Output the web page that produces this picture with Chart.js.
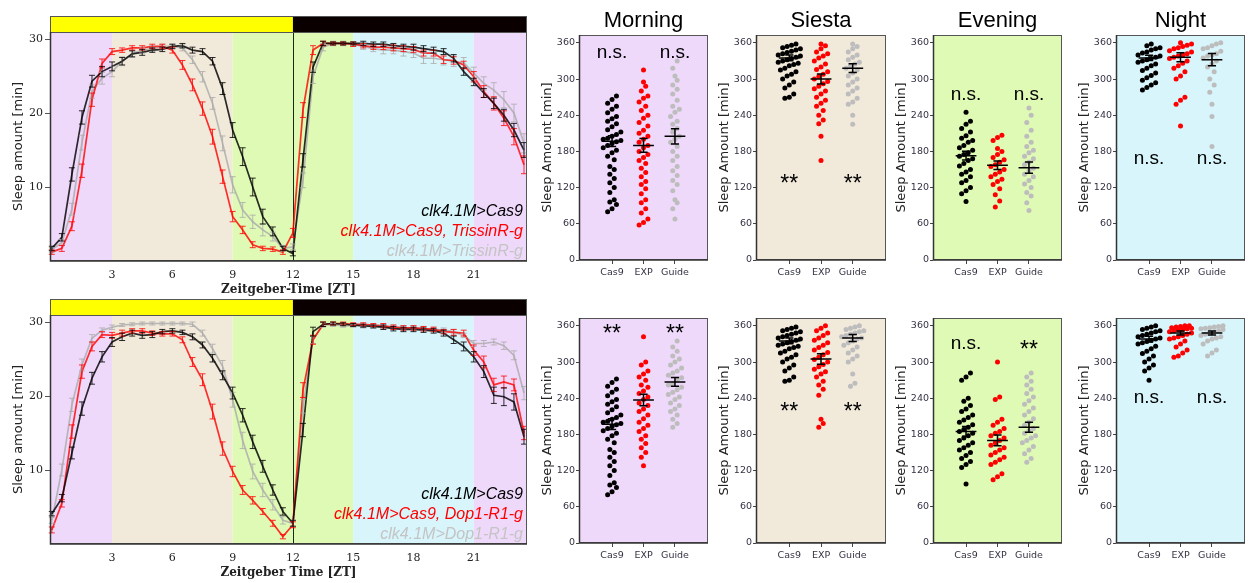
<!DOCTYPE html>
<html>
<head>
<meta charset="utf-8">
<script src="https://cdn.jsdelivr.net/npm/chart.js@4.4.0/dist/chart.umd.min.js"></script>
<style>
  body { margin: 0; background: #fff; }
  #wrap { position: relative; width: 1248px; height: 583px; overflow: hidden; }
  canvas { position: absolute; }
</style>
</head>
<body>
<div id="wrap"></div>
<script>
// ---- time course data (30 min bins, ZT hours) ----
var zt = [0,0.5,1,1.5,2,2.5,3,3.5,4,4.5,5,5.5,6,6.5,7,7.5,8,8.5,9,9.5,10,10.5,11,11.5,
          12,12.5,13,13.5,14,14.5,15,15.5,16,16.5,17,17.5,18,18.5,19,19.5,20,20.5,21,21.5,22,22.5,23,23.5];
var ztTicks = [3,6,9,12,15,18,21];

// top: TrissinR
var cas9A  = [1.7,3.2,11.7,19.4,24.3,25.6,26.3,27.0,28.0,28.2,28.5,28.6,29.0,29.1,28.5,28.3,27.0,23.3,17.7,14.1,10.0,6.0,4.0,1.7,
              1.0,13.6,26.2,29.4,29.4,29.4,29.4,29.4,29.3,29.3,29.1,29.0,28.9,28.7,28.5,28.3,27.4,25.6,24.2,22.7,21.3,19.7,17.7,15.0];
var expA   = [1.2,1.7,4.7,12.2,21.8,26.7,28.3,28.5,28.8,28.8,29.0,29.0,28.5,26.5,23.8,20.6,16.8,11.4,6.0,4.2,2.2,1.7,1.6,1.2,
              3.8,20.4,28.5,29.4,29.4,29.4,29.3,29.1,28.9,28.9,28.8,28.7,28.6,28.1,28.1,27.2,27.1,26.5,24.9,22.9,21.3,19.3,16.8,13.0];
var guideA = [1.5,2.5,7.0,16.0,22.9,24.7,25.6,27.0,28.0,28.5,28.7,29.0,29.0,28.8,27.2,24.9,21.3,15.9,10.3,6.9,5.3,4.2,3.3,1.7,
              1.9,10.9,24.9,28.9,29.4,29.4,29.3,29.0,28.7,28.5,28.5,28.3,28.1,27.4,27.4,27.2,27.0,26.8,25.4,24.0,23.1,21.8,20.0,15.9];
var semCas9A  = [0.3,0.5,0.9,0.9,0.8,0.7,0.6,0.5,0.4,0.4,0.3,0.3,0.3,0.3,0.4,0.4,0.5,0.8,1.0,1.2,1.2,1.0,0.6,0.3,
                 0.3,0.9,0.7,0.3,0.2,0.2,0.2,0.3,0.3,0.3,0.3,0.3,0.4,0.4,0.4,0.4,0.5,0.5,0.5,0.6,0.7,0.8,0.9,1.0];
var semExpA   = [0.3,0.4,0.6,0.9,0.9,0.6,0.4,0.3,0.3,0.3,0.3,0.3,0.4,0.6,0.8,0.9,1.0,0.9,0.7,0.5,0.4,0.3,0.3,0.3,
                 0.6,1.0,0.6,0.3,0.2,0.2,0.3,0.3,0.3,0.3,0.4,0.4,0.4,0.4,0.4,0.5,0.5,0.5,0.7,0.8,0.9,1.0,1.1,1.2];
var semGuideA = [0.3,0.4,0.8,1.0,0.9,0.8,0.7,0.6,0.5,0.4,0.4,0.3,0.3,0.4,0.5,0.7,0.8,1.0,1.1,1.0,0.9,0.8,0.6,0.4,
                 0.4,1.0,0.9,0.5,0.3,0.3,0.3,0.4,0.4,0.5,0.5,0.6,0.6,0.7,0.7,0.7,0.7,0.7,0.8,0.9,1.0,1.1,1.2,1.3];

// bottom: Dop1-R1
var cas9B  = [4.1,6.2,12.3,18.3,22.4,25.3,27.3,28.0,28.5,28.2,28.3,28.7,28.8,28.6,28.0,26.9,25.1,22.8,20.4,17.4,13.8,10.5,7.3,4.4,
              2.8,15.4,28.7,29.7,29.8,29.7,29.6,29.5,29.4,29.3,29.1,29.0,29.0,28.9,28.8,28.5,27.6,26.7,25.3,23.3,20.1,19.9,19.2,14.5];
var expB   = [1.9,5.5,15.2,23.3,26.7,28.3,28.2,28.5,28.8,28.8,28.5,28.4,28.4,27.6,24.6,22.2,17.9,12.9,9.8,7.3,5.9,4.4,2.8,1.0,
              2.6,20.8,27.6,29.7,29.8,29.8,29.7,29.7,29.6,29.5,29.3,29.2,29.2,29.1,29.0,28.7,28.6,28.5,26.2,24.6,21.5,21.9,21.5,15.0];
var guideB = [3.2,10.0,18.8,24.2,27.8,28.9,29.3,29.6,29.7,29.8,29.8,29.8,29.8,29.8,29.7,28.5,26.4,24.0,19.5,14.0,9.8,7.3,5.3,3.2,
              2.8,18.6,27.6,29.6,29.6,29.5,29.5,29.4,29.4,29.3,29.3,29.2,29.2,29.1,29.0,28.9,28.7,28.2,27.1,27.1,27.3,26.8,25.5,20.4];
var semCas9B  = [0.3,0.5,0.8,0.9,0.8,0.7,0.6,0.5,0.4,0.4,0.4,0.3,0.3,0.3,0.4,0.4,0.5,0.6,0.8,0.9,0.9,0.8,0.7,0.5,
                 0.4,0.9,0.6,0.3,0.2,0.2,0.2,0.2,0.2,0.3,0.3,0.3,0.3,0.3,0.3,0.4,0.5,0.6,0.7,0.8,1.1,1.2,1.1,1.0];
var semExpB   = [0.4,0.5,0.9,0.9,0.6,0.4,0.4,0.4,0.3,0.3,0.3,0.3,0.3,0.4,0.6,0.8,1.0,0.9,0.7,0.6,0.5,0.4,0.4,0.3,
                 0.4,1.0,0.6,0.3,0.2,0.2,0.2,0.2,0.2,0.3,0.3,0.3,0.3,0.3,0.3,0.3,0.4,0.4,0.7,0.8,0.9,0.8,0.8,0.9];
var semGuideB = [0.4,0.8,0.9,0.8,0.5,0.3,0.3,0.2,0.2,0.2,0.2,0.2,0.2,0.2,0.3,0.4,0.6,0.8,1.0,1.1,1.0,0.9,0.7,0.5,
                 0.4,0.9,0.5,0.3,0.2,0.2,0.2,0.2,0.2,0.3,0.3,0.3,0.3,0.3,0.3,0.3,0.3,0.3,0.4,0.4,0.4,0.5,0.6,0.9];

var namesA = ['clk4.1M>Cas9', 'clk4.1M>Cas9, TrissinR-g', 'clk4.1M>TrissinR-g'];
var namesB = ['clk4.1M>Cas9', 'clk4.1M>Cas9, Dop1-R1-g', 'clk4.1M>Dop1-R1-g'];

// ---- per-period sleep amounts (min) ----
var groups = ['Cas9', 'EXP', 'Guide'];
var periods = ['Morning', 'Siesta', 'Evening', 'Night'];

var morningCas9A  = [272,266,260,255,250,244,238,234,230,226,221,216,212,208,205,202,200,198,196,193,190,186,182,178,172,166,155,150,142,135,128,120,112,100,96,92,85,80];
var morningExpA   = [315,295,288,280,272,268,262,255,248,240,235,228,222,215,210,205,200,195,190,186,180,175,170,165,160,152,145,138,130,125,118,110,100,95,85,78,68,62,58];
var morningGuideA = [330,318,305,298,290,283,275,265,255,250,245,238,230,225,218,212,205,200,195,188,180,172,165,155,148,140,132,125,115,100,95,85,68];
var siestaCas9A   = [358,356,354,352,350,348,346,344,342,340,338,336,334,332,330,328,326,324,322,318,315,312,308,305,300,295,290,285,275,270,268];
var siestaExpA    = [358,355,350,345,342,338,335,330,325,320,316,312,308,304,300,296,292,288,284,280,275,270,265,260,255,248,240,232,226,205,165];
var siestaGuideA  = [358,354,350,345,340,336,332,328,325,322,318,315,310,305,300,295,290,285,280,275,268,262,258,240,225];
var eveningCas9A  = [245,230,225,218,212,206,202,198,195,190,186,182,178,175,172,168,165,160,156,150,146,142,138,132,128,120,115,110,97];
var eveningExpA   = [207,203,198,185,180,175,170,166,162,158,155,150,146,142,138,134,130,125,118,108,98,88];
var eveningGuideA = [252,240,228,215,205,195,188,182,178,172,168,162,158,152,148,142,138,132,126,120,112,106,95,82];
var nightCas9A    = [358,355,352,350,348,345,343,340,338,336,334,332,330,328,325,322,318,314,310,306,302,298,294,290,286,282];
var nightExpA     = [360,358,356,354,352,350,347,345,342,340,338,336,334,330,326,322,318,312,305,300,270,265,258,222];
var nightGuideA   = [360,358,355,352,350,346,342,340,338,335,330,325,320,312,300,290,278,258,238,188];

var morningCas9B  = [272,266,260,255,250,244,238,234,230,226,221,216,212,208,205,202,200,198,196,193,190,186,182,178,172,166,155,150,142,135,128,120,112,100,96,92,85,80];
var morningExpB   = [342,300,295,285,280,275,270,262,258,252,248,242,238,232,228,222,218,212,206,200,195,190,185,178,172,165,158,150,142,128];
var morningGuideB = [335,325,318,310,305,300,295,290,285,282,278,274,270,265,262,258,254,250,246,242,238,232,228,222,218,212,205,198,192];
var siestaCas9B   = [358,356,354,352,350,348,346,344,342,340,338,336,334,332,330,328,326,324,322,318,315,312,308,305,300,295,290,285,275,270,268];
var siestaExpB    = [360,356,352,348,344,340,336,332,328,324,320,316,312,308,304,300,296,292,288,284,280,275,268,262,255,245,205,198,192];
var siestaGuideB  = [360,358,356,354,352,350,348,346,344,342,340,338,335,332,328,325,320,315,310,305,300,280,265,260];
var eveningCas9B  = [282,275,270,240,235,228,222,218,212,208,204,200,196,192,188,185,182,178,174,170,166,162,158,154,150,145,140,135,130,125,98];
var eveningExpB   = [300,242,238,205,200,195,190,185,182,178,174,170,166,162,158,154,150,146,142,138,134,130,115,110,105];
var eveningGuideB = [282,275,268,262,255,248,242,236,230,224,218,212,206,200,195,190,186,182,178,174,170,166,160,154,148,140,134];
var nightCas9B    = [360,358,356,354,352,350,348,346,344,342,340,338,336,334,332,330,326,322,318,314,310,305,300,295,290,285,270];
var nightExpB     = [360,360,359,358,357,356,355,354,353,352,350,348,346,344,342,340,338,335,330,325,320,315,310,308];
var nightGuideB   = [360,359,358,357,356,355,354,352,350,348,346,344,342,340,338,335,330,320,315,310];

// group means as plotted
var meansMorningA = [197,190,205], meansSiestaA = [335,300,318], meansEveningA = [173,157,153], meansNightA = [335,336,332];
var meansMorningB = [197,237,267], meansSiestaB = [335,305,340], meansEveningB = [185,170,192], meansNightB = [338,348,348];

// significance marks and the value level they sit at
var sigA = [['n.s.','','n.s.'], ['**','','**'], ['n.s.','','n.s.'], ['n.s.','','n.s.']];
var sigLevelA = [343, 136, 273, 168];
var sigB = [['**','','**'], ['**','','**'], ['n.s.','','**'], ['n.s.','','n.s.']];
var sigLevelB = [356, 226, 330, 240];

// ---- styling ----
var lineColors = ['rgba(0,0,0,0.82)', 'rgba(255,0,0,0.8)', 'rgba(170,170,170,0.8)'];
var legendColors = ['#000000', '#ff0000', '#c4c4c4'];
var dotColors = ['#000000', '#ff0000', '#bdbdbd'];
var phases = [[-1, 3, '#efd9fb'], [3, 9, '#f1e9da'], [9, 15, '#dffab5'], [15, 21, '#d7f5fb'], [21, 25, '#efd9fb']];
var lightBar = [[-1, 12, '#ffff00'], [12, 25, '#0a0000']];
var periodBg = ['#efd9fb', '#f1e9da', '#dffab5', '#d7f5fb'];
var stripLefts = [579, 756, 933, 1116];

var wrap = document.getElementById('wrap');
function addCanvas(left, top, w, h) {
  var c = document.createElement('canvas');
  c.width = w; c.height = h;
  c.style.left = left + 'px'; c.style.top = top + 'px';
  c.style.width = w + 'px'; c.style.height = h + 'px';
  wrap.appendChild(c);
  return c;
}

// background phases, light/dark bar, ZT12 line
var zonesPlugin = {
  id: 'zones',
  beforeDatasetsDraw: function(chart) {
    var ctx = chart.ctx, a = chart.chartArea, x = chart.scales.x;
    ctx.save();
    ctx.beginPath(); ctx.rect(a.left, a.top - 16, a.width, a.height + 16); ctx.clip();
    phases.forEach(function(p) {
      ctx.fillStyle = p[2];
      ctx.fillRect(x.getPixelForValue(p[0]), a.top, x.getPixelForValue(p[1]) - x.getPixelForValue(p[0]), a.height);
    });
    lightBar.forEach(function(p) {
      ctx.fillStyle = p[2];
      ctx.fillRect(x.getPixelForValue(p[0]), a.top - 16, x.getPixelForValue(p[1]) - x.getPixelForValue(p[0]), 16);
    });
    ctx.restore();
    ctx.save();
    ctx.strokeStyle = '#1c2a12'; ctx.lineWidth = 1;
    var x12 = Math.round(x.getPixelForValue(12)) + 0.5;
    ctx.beginPath(); ctx.moveTo(x12, a.top); ctx.lineTo(x12, a.bottom); ctx.stroke();
    ctx.restore();
  },
  afterDraw: function(chart) {
    var ctx = chart.ctx, a = chart.chartArea;
    ctx.save();
    ctx.strokeStyle = '#555'; ctx.lineWidth = 1;
    ctx.strokeRect(a.left + 0.5, a.top - 16 + 0.5, a.width - 1, a.height + 16 - 1);
    ctx.beginPath(); ctx.moveTo(a.left, a.top + 0.5); ctx.lineTo(a.right, a.top + 0.5); ctx.stroke();
    ctx.strokeStyle = '#333'; ctx.lineWidth = 1.5;
    ctx.beginPath(); ctx.moveTo(a.left + 0.5, a.top); ctx.lineTo(a.left + 0.5, a.bottom); ctx.lineTo(a.right, a.bottom); ctx.stroke();
    ctx.restore();
  }
};

var errorBars = {
  id: 'errorBars',
  afterDatasetsDraw: function(chart) {
    var ctx = chart.ctx, x = chart.scales.x, y = chart.scales.y;
    ctx.save();
    ctx.lineWidth = 1;
    chart.data.datasets.slice().reverse().forEach(function(ds) {
      ctx.strokeStyle = ds.borderColor;
      ds.data.forEach(function(p, j) {
        var e = ds.sem[j] || 0;
        var px = x.getPixelForValue(p.x);
        var y1 = y.getPixelForValue(p.y - e), y2 = y.getPixelForValue(p.y + e);
        ctx.beginPath();
        ctx.moveTo(px, y1); ctx.lineTo(px, y2);
        ctx.moveTo(px - 3, y1); ctx.lineTo(px + 3, y1);
        ctx.moveTo(px - 3, y2); ctx.lineTo(px + 3, y2);
        ctx.stroke();
      });
    });
    ctx.restore();
  }
};

var legendText = {
  id: 'legendText',
  afterDraw: function(chart) {
    var ctx = chart.ctx, a = chart.chartArea;
    var ds = chart.data.datasets;
    ctx.save();
    ctx.font = 'italic 16px "Liberation Sans", Arial, sans-serif';
    ctx.textAlign = 'right'; ctx.textBaseline = 'middle';
    ds.forEach(function(d, i) {
      ctx.fillStyle = legendColors[i];
      ctx.fillText(d.label, a.right - 4, a.bottom - 9 - 20 * (ds.length - 1 - i));
    });
    ctx.restore();
  }
};

function lineChart(top, series, sems, names, xTitle) {
  var cv = addCanvas(0, top, 540, 300);
  var tickFont = { family: '"DejaVu Serif", serif', size: 11 };
  new Chart(cv, {
    type: 'line',
    data: {
      datasets: series.map(function(s, i) {
        return {
          label: names[i],
          data: s.map(function(v, j) { return { x: zt[j], y: v }; }),
          sem: sems[i],
          borderColor: lineColors[i],
          borderWidth: 1.7,
          pointRadius: 0,
          tension: 0,
          order: i
        };
      })
    },
    options: {
      responsive: false, animation: false, events: [],
      layout: { padding: { top: 32, right: 13, left: 0, bottom: 0 } },
      plugins: { legend: { display: false }, tooltip: { enabled: false } },
      scales: {
        x: {
          type: 'linear', min: -0.09, max: 23.65,
          afterBuildTicks: function(s) { s.ticks = ztTicks.map(function(v) { return { value: v }; }); },
          afterFit: function(s) { s.height = 39; },
          grid: { display: false },
          border: { display: false },
          ticks: { font: tickFont, color: '#222', padding: 0, maxRotation: 0 },
          title: { display: true, text: xTitle, color: '#222',
                   font: { family: '"DejaVu Serif", serif', size: 12, weight: 'bold' },
                   padding: { top: 0, bottom: 2.5 } }
        },
        y: {
          min: 0, max: 30.95,
          afterBuildTicks: function(s) { s.ticks = [10, 20, 30].map(function(v) { return { value: v }; }); },
          afterFit: function(s) { s.width = 50; },
          grid: { drawOnChartArea: false, tickLength: 5, color: '#555' },
          border: { display: false },
          ticks: { font: tickFont, color: '#222', padding: 2 },
          title: { display: true, text: 'Sleep amount [min]', color: '#222',
                   font: { family: '"DejaVu Sans", sans-serif', size: 13 },
                   padding: { top: 11, bottom: 0 } }
        }
      }
    },
    plugins: [zonesPlugin, errorBars, legendText]
  });
}

// beeswarm-ish layout of the dots inside each group column
function swarm(vals, g) {
  var s = vals.slice().sort(function(a, b) { return a - b; });
  var out = [], bin = [];
  function flush() {
    bin.forEach(function(v, k) { out.push({ x: g + (k - (bin.length - 1) / 2) * 0.14, y: v }); });
    bin = [];
  }
  s.forEach(function(v) {
    if (bin.length && (v - bin[0] > 12 || bin.length >= 6)) flush();
    bin.push(v);
  });
  flush();
  return out;
}
function semOf(vals) {
  var m = vals.reduce(function(a, b) { return a + b; }, 0) / vals.length;
  var v = vals.reduce(function(a, b) { return a + (b - m) * (b - m); }, 0) / (vals.length - 1);
  return Math.sqrt(v / vals.length);
}

var stripDecor = {
  id: 'stripDecor',
  beforeDatasetsDraw: function(chart) {
    var ctx = chart.ctx, a = chart.chartArea;
    ctx.save();
    ctx.fillStyle = chart.options.plugins.stripDecor.bg;
    ctx.fillRect(a.left, a.top, a.width, a.height);
    ctx.restore();
  },
  afterDatasetsDraw: function(chart) {
    var ctx = chart.ctx, a = chart.chartArea, x = chart.scales.x, y = chart.scales.y;
    var o = chart.options.plugins.stripDecor;
    ctx.save();
    // mean +- sem
    ctx.strokeStyle = '#000'; ctx.lineWidth = 1.5;
    chart.data.datasets.forEach(function(ds, g) {
      var xm = x.getPixelForValue(g);
      var hw = x.getPixelForValue(g + 0.33) - xm, cw = x.getPixelForValue(g + 0.13) - xm;
      var ym = y.getPixelForValue(ds.mean);
      var y1 = y.getPixelForValue(ds.mean - ds.sem), y2 = y.getPixelForValue(ds.mean + ds.sem);
      ctx.beginPath();
      ctx.moveTo(xm - hw, ym); ctx.lineTo(xm + hw, ym);
      ctx.moveTo(xm, y1); ctx.lineTo(xm, y2);
      ctx.moveTo(xm - cw, y1); ctx.lineTo(xm + cw, y1);
      ctx.moveTo(xm - cw, y2); ctx.lineTo(xm + cw, y2);
      ctx.stroke();
    });
    // significance marks
    ctx.fillStyle = '#000'; ctx.textAlign = 'center'; ctx.textBaseline = 'alphabetic';
    o.sig.forEach(function(t, g) {
      if (!t) return;
      var star = t.indexOf('*') >= 0;
      var fs = star ? 23 : 19;
      ctx.font = fs + 'px "Liberation Sans", Arial, sans-serif';
      ctx.fillText(t, x.getPixelForValue(g), y.getPixelForValue(o.sigLevel) + fs * (star ? 0.55 : 0.26));
    });
    // frame
    ctx.strokeStyle = '#555'; ctx.lineWidth = 1;
    ctx.strokeRect(a.left + 0.5, a.top + 0.5, a.width - 1, a.height - 1);
    ctx.strokeStyle = '#333'; ctx.lineWidth = 1.5;
    ctx.beginPath(); ctx.moveTo(a.left + 0.5, a.top); ctx.lineTo(a.left + 0.5, a.bottom); ctx.lineTo(a.right, a.bottom); ctx.stroke();
    // title
    if (o.title) {
      ctx.font = '22px "Liberation Sans", Arial, sans-serif';
      ctx.textBaseline = 'middle';
      ctx.fillText(o.title, (a.left + a.right) / 2, a.top - 14);
    }
    ctx.restore();
  }
};

function stripChart(p, top, showTitle, sets, means, sig, sigLevel) {
  var cv = addCanvas(stripLefts[p] - 40, top, 180, 283);
  var w = p === 1 ? 130 : 129;
  new Chart(cv, {
    type: 'scatter',
    data: {
      datasets: sets.map(function(vals, g) {
        return {
          data: swarm(vals, g),
          mean: means[g],
          sem: semOf(vals),
          backgroundColor: dotColors[g],
          pointRadius: 2.5,
          pointBorderWidth: 0
        };
      })
    },
    options: {
      responsive: false, animation: false, events: [],
      layout: { padding: { top: 35, right: 180 - 40 - w, left: 0, bottom: 0 } },
      plugins: {
        legend: { display: false }, tooltip: { enabled: false },
        stripDecor: { bg: periodBg[p], title: showTitle ? periods[p] : '', sig: sig, sigLevel: sigLevel }
      },
      scales: {
        x: {
          type: 'linear', min: -1.05, max: 3.05,
          afterBuildTicks: function(s) { s.ticks = [0, 1, 2].map(function(v) { return { value: v }; }); },
          afterFit: function(s) { s.height = 23; },
          grid: { drawOnChartArea: false, tickLength: 4, color: '#444' },
          border: { display: false },
          ticks: { font: { family: '"DejaVu Sans", sans-serif', size: 9.5 }, color: '#333344', padding: 3,
                   maxRotation: 0, callback: function(v) { return groups[v]; } }
        },
        y: {
          min: 0, max: 373,
          afterBuildTicks: function(s) { s.ticks = [0, 60, 120, 180, 240, 300, 360].map(function(v) { return { value: v }; }); },
          afterFit: function(s) { s.width = 40; },
          grid: { drawOnChartArea: false, tickLength: 3, color: '#444' },
          border: { display: false },
          ticks: { font: { family: '"DejaVu Sans", sans-serif', size: 9.5 }, color: '#333344', padding: 1 },
          title: { display: true, text: 'Sleep Amount [min]', color: '#222',
                   font: { family: '"DejaVu Sans", sans-serif', size: 13 }, padding: { top: 1, bottom: 0 } }
        }
      }
    },
    plugins: [stripDecor]
  });
}

lineChart(0, [cas9A, expA, guideA], [semCas9A, semExpA, semGuideA], namesA, 'Zeitgeber-Time [ZT]');
lineChart(283, [cas9B, expB, guideB], [semCas9B, semExpB, semGuideB], namesB, 'Zeitgeber Time [ZT]');

stripChart(0, 0, true, [morningCas9A, morningExpA, morningGuideA], meansMorningA, sigA[0], sigLevelA[0]);
stripChart(1, 0, true, [siestaCas9A, siestaExpA, siestaGuideA], meansSiestaA, sigA[1], sigLevelA[1]);
stripChart(2, 0, true, [eveningCas9A, eveningExpA, eveningGuideA], meansEveningA, sigA[2], sigLevelA[2]);
stripChart(3, 0, true, [nightCas9A, nightExpA, nightGuideA], meansNightA, sigA[3], sigLevelA[3]);

stripChart(0, 283, false, [morningCas9B, morningExpB, morningGuideB], meansMorningB, sigB[0], sigLevelB[0]);
stripChart(1, 283, false, [siestaCas9B, siestaExpB, siestaGuideB], meansSiestaB, sigB[1], sigLevelB[1]);
stripChart(2, 283, false, [eveningCas9B, eveningExpB, eveningGuideB], meansEveningB, sigB[2], sigLevelB[2]);
stripChart(3, 283, false, [nightCas9B, nightExpB, nightGuideB], meansNightB, sigB[3], sigLevelB[3]);
</script>
</body>
</html>
